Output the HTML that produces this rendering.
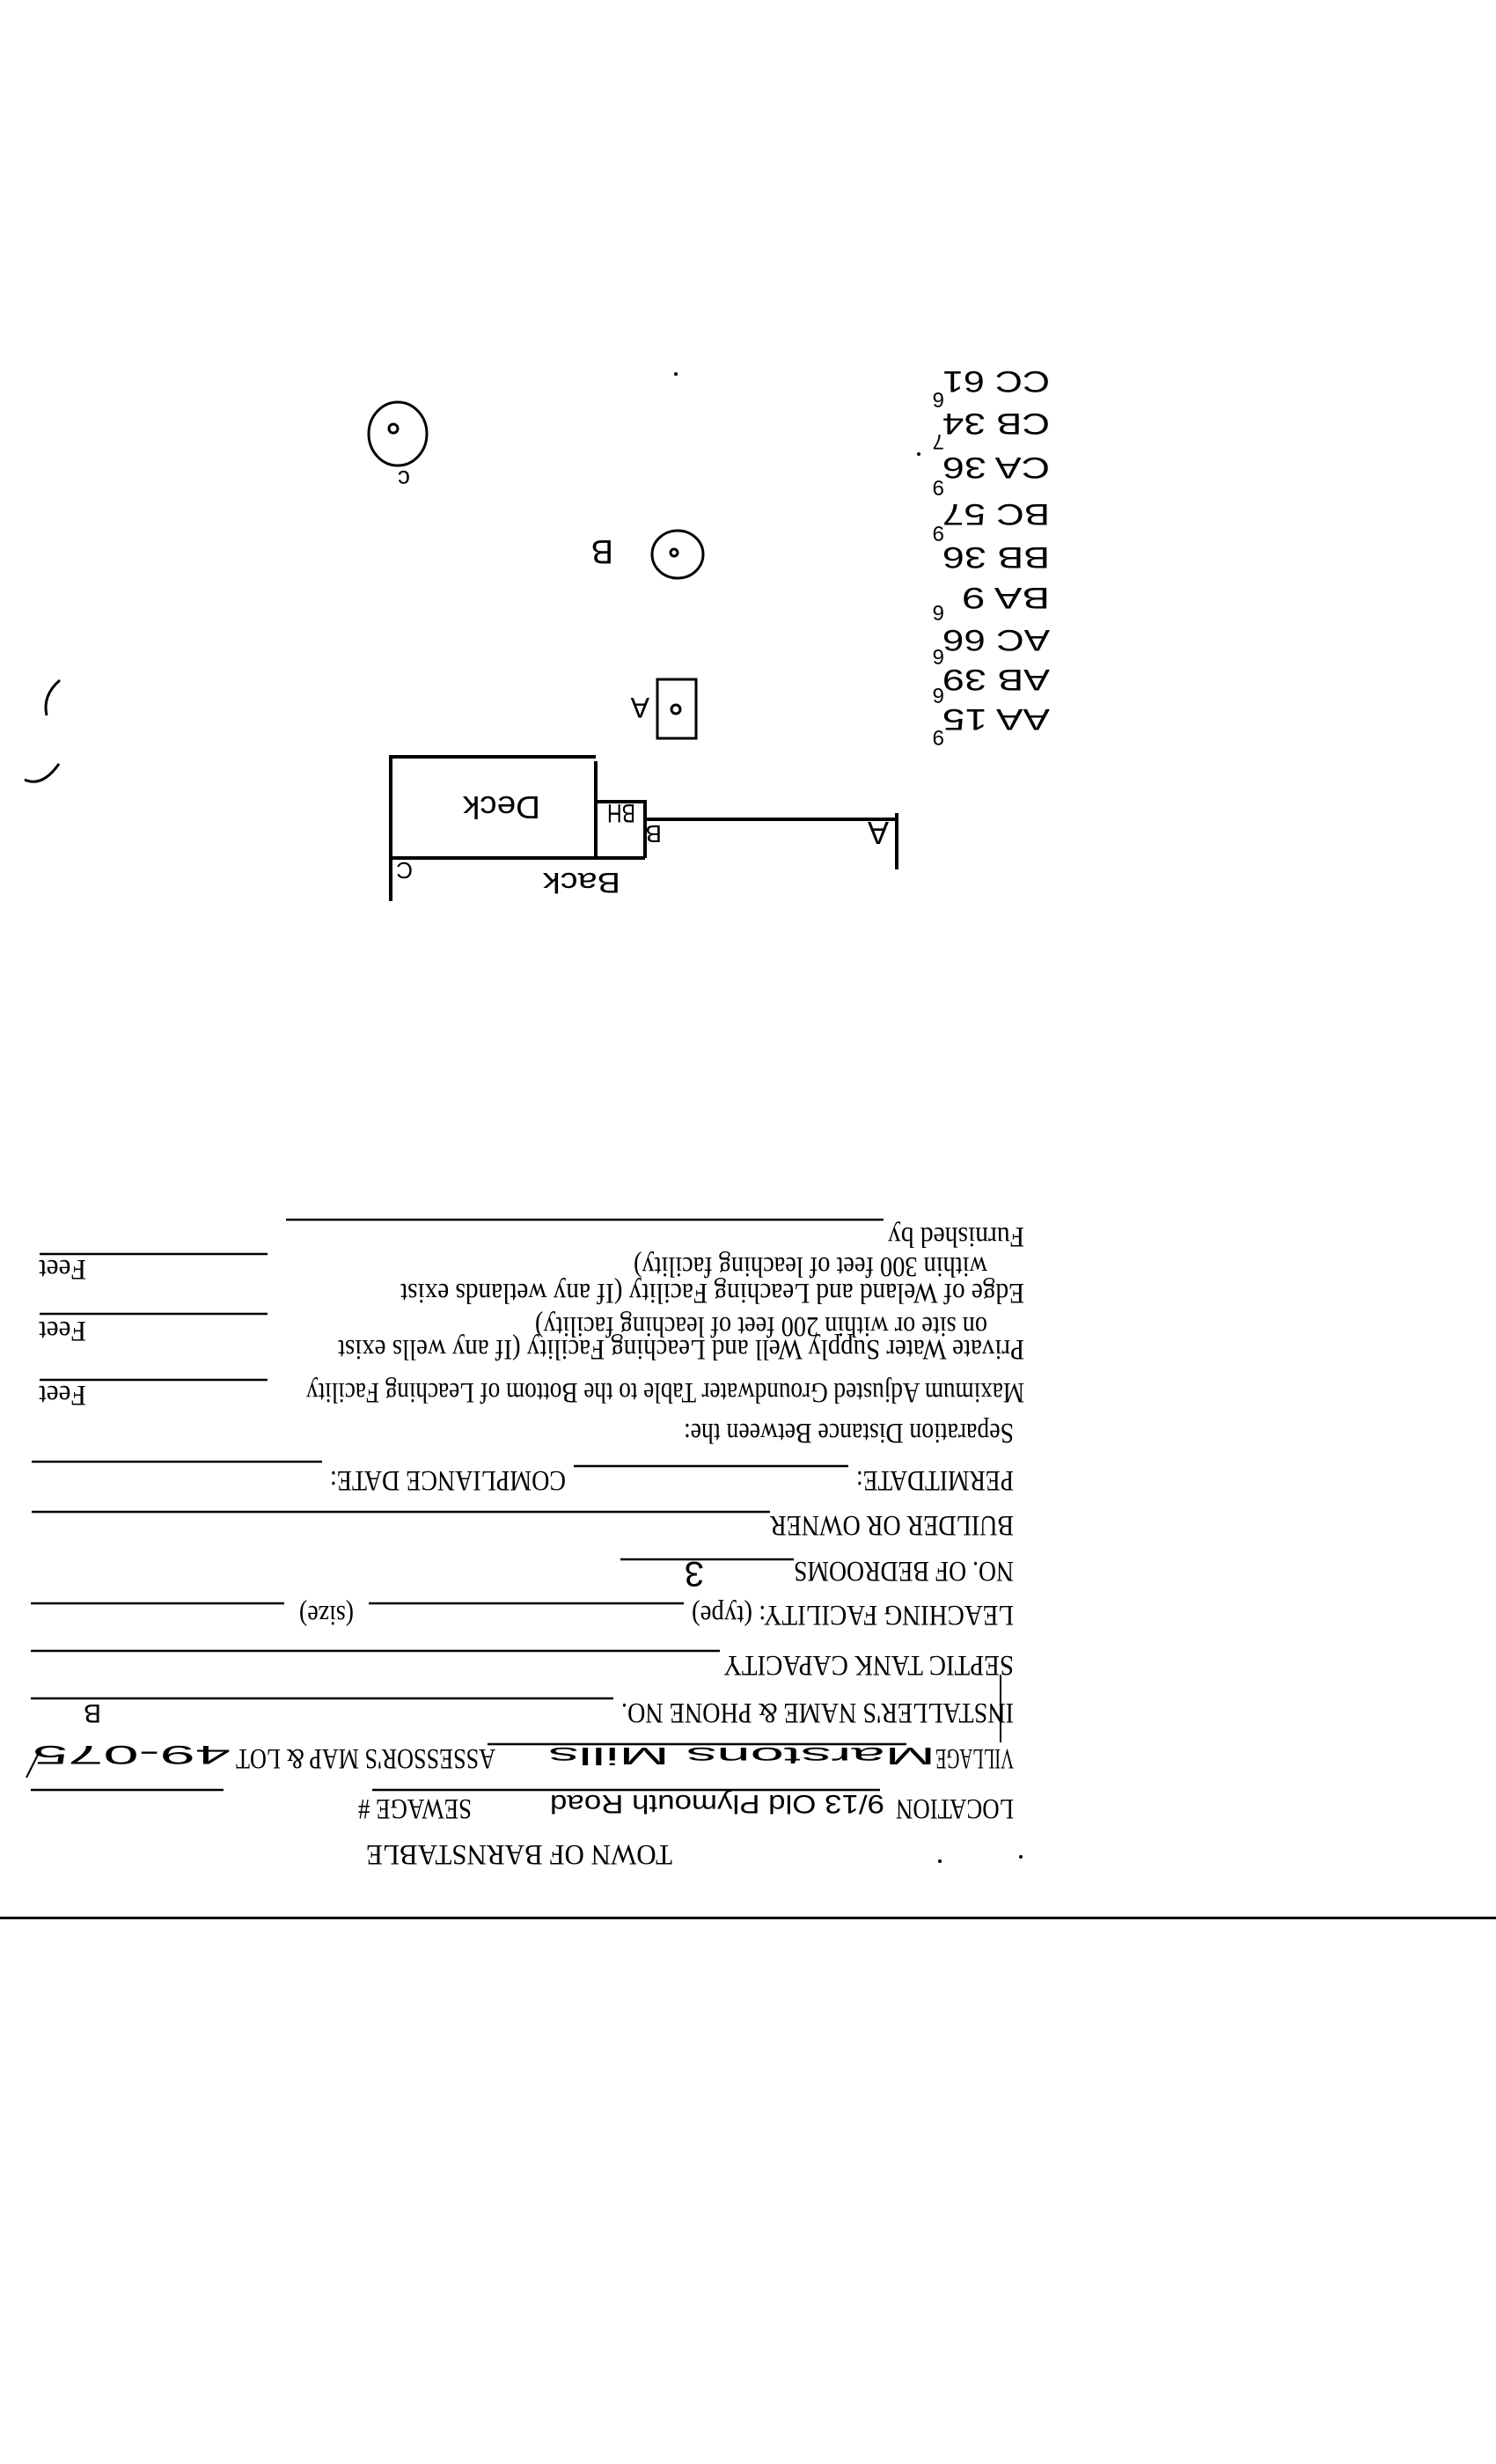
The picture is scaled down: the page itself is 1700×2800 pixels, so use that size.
<!DOCTYPE html>
<html><head><meta charset="utf-8"><style>
html,body{margin:0;padding:0;background:#fff;}
svg{display:block;}
.f{font-family:"Liberation Serif",serif;fill:#000;}
.h{font-family:"Liberation Sans",sans-serif;fill:#000;}
</style></head><body>
<svg width="1700" height="2800" viewBox="0 0 1700 2800" xmlns="http://www.w3.org/2000/svg">
<rect width="1700" height="2800" fill="#fff"/>
<rect x="0" y="2178" width="1700" height="3" fill="#000"/>

<g class="f" font-size="33">
<text x="764" y="2097" transform="rotate(180 764 2097)" textLength="348" lengthAdjust="spacingAndGlyphs">TOWN OF BARNSTABLE</text>
<text x="1152" y="2045" transform="rotate(180 1152 2045)" textLength="134" lengthAdjust="spacingAndGlyphs">LOCATION</text>
<text x="536" y="2045" transform="rotate(180 536 2045)" textLength="129" lengthAdjust="spacingAndGlyphs">SEWAGE #</text>
<text x="1152" y="1988" transform="rotate(180 1152 1988)" textLength="89" lengthAdjust="spacingAndGlyphs">VILLAGE</text>
<text x="563" y="1988" transform="rotate(180 563 1988)" textLength="295" lengthAdjust="spacingAndGlyphs">ASSESSOR'S MAP &amp; LOT</text>
<text x="1152" y="1936" transform="rotate(180 1152 1936)" textLength="446" lengthAdjust="spacingAndGlyphs">INSTALLER'S NAME &amp; PHONE NO.</text>
<text x="1152" y="1882" transform="rotate(180 1152 1882)" textLength="330" lengthAdjust="spacingAndGlyphs">SEPTIC TANK CAPACITY</text>
<text x="1152" y="1825" transform="rotate(180 1152 1825)" textLength="366" lengthAdjust="spacingAndGlyphs">LEACHING FACILITY: (type)</text>
<text x="402" y="1825" transform="rotate(180 402 1825)" textLength="62" lengthAdjust="spacingAndGlyphs">(size)</text>
<text x="1152" y="1775" transform="rotate(180 1152 1775)" textLength="250" lengthAdjust="spacingAndGlyphs">NO. OF BEDROOMS</text>
<text x="1152" y="1723" transform="rotate(180 1152 1723)" textLength="277" lengthAdjust="spacingAndGlyphs">BUILDER OR OWNER</text>
<text x="1152" y="1672" transform="rotate(180 1152 1672)" textLength="179" lengthAdjust="spacingAndGlyphs">PERMITDATE:</text>
<text x="643" y="1672" transform="rotate(180 643 1672)" textLength="268" lengthAdjust="spacingAndGlyphs">COMPLIANCE  DATE:</text>
<text x="1152" y="1618" transform="rotate(180 1152 1618)" textLength="375" lengthAdjust="spacingAndGlyphs">Separation Distance Between the:</text>
<text x="1164" y="1572" transform="rotate(180 1164 1572)" textLength="816" lengthAdjust="spacingAndGlyphs">Maximum Adjusted Groundwater Table to the Bottom of Leaching Facility</text>
<text x="1164" y="1523" transform="rotate(180 1164 1523)" textLength="780" lengthAdjust="spacingAndGlyphs">Private Water Supply Well and Leaching Facility  (If any wells exist</text>
<text x="1122" y="1497" transform="rotate(180 1122 1497)" textLength="514" lengthAdjust="spacingAndGlyphs">on site or within 200 feet of leaching facility)</text>
<text x="1164" y="1459" transform="rotate(180 1164 1459)" textLength="709" lengthAdjust="spacingAndGlyphs">Edge of Weland and Leaching Facility (If any wetlands exist</text>
<text x="1122" y="1429" transform="rotate(180 1122 1429)" textLength="402" lengthAdjust="spacingAndGlyphs">within 300 feet of leaching facility)</text>
<text x="1164" y="1395" transform="rotate(180 1164 1395)" textLength="155" lengthAdjust="spacingAndGlyphs">Furnished by</text>
<text x="98" y="1575" transform="rotate(180 98 1575)" textLength="54" lengthAdjust="spacingAndGlyphs">Feet</text>
<text x="98" y="1502" transform="rotate(180 98 1502)" textLength="54" lengthAdjust="spacingAndGlyphs">Feet</text>
<text x="98" y="1432" transform="rotate(180 98 1432)" textLength="54" lengthAdjust="spacingAndGlyphs">Feet</text>
</g>

<g stroke="#000" stroke-width="2.5">
<line x1="423" y1="2034" x2="1000" y2="2034"/>
<line x1="35" y1="2034" x2="254" y2="2034"/>
<line x1="554" y1="1982" x2="1030" y2="1982"/>
<line x1="35" y1="1930" x2="697" y2="1930"/>
<line x1="35" y1="1876" x2="818" y2="1876"/>
<line x1="419" y1="1822" x2="777" y2="1822"/>
<line x1="35" y1="1822" x2="323" y2="1822"/>
<line x1="705" y1="1772" x2="902" y2="1772"/>
<line x1="36" y1="1718" x2="875" y2="1718"/>
<line x1="652" y1="1666" x2="964" y2="1666"/>
<line x1="36" y1="1661" x2="366" y2="1661"/>
<line x1="45" y1="1568" x2="304" y2="1568"/>
<line x1="45" y1="1493" x2="304" y2="1493"/>
<line x1="45" y1="1425" x2="304" y2="1425"/>
<line x1="325" y1="1386" x2="1004" y2="1386"/>
<line x1="1137" y1="1903" x2="1137" y2="1980" stroke-width="2"/>
<line x1="30" y1="2020" x2="45" y2="1990" stroke-width="2"/>
</g>

<g class="h">
<text x="1005" y="2040" transform="rotate(180 1005 2040)" font-size="30" textLength="380" lengthAdjust="spacingAndGlyphs">9/13 Old Plymouth Road</text>
<text x="1063" y="1986" transform="rotate(180 1063 1986)" font-size="28" textLength="440" lengthAdjust="spacingAndGlyphs">Marstons Mills</text>
<text x="262" y="1984" transform="rotate(180 262 1984)" font-size="30" textLength="225" lengthAdjust="spacingAndGlyphs">49-075</text>
<text x="115" y="1937" transform="rotate(180 115 1937)" font-size="30">B</text>
<text x="800" y="1775" transform="rotate(180 800 1775)" font-size="40">3</text>
</g>

<g fill="none" stroke="#000" stroke-width="4">
<polyline points="444,1024 444,860 677,860"/>
<line x1="444" y1="975" x2="733" y2="975"/>
<line x1="677" y1="865" x2="677" y2="975"/>
<polyline points="677,911 733,911 733,975"/>
<line x1="733" y1="931" x2="1019" y2="931"/>
<line x1="1019" y1="924" x2="1019" y2="988"/>
<rect x="747" y="772" width="44" height="67" stroke-width="3"/>
<circle cx="768" cy="806" r="5" stroke-width="3"/>
<ellipse cx="770" cy="630" rx="29" ry="27" stroke-width="3"/>
<circle cx="766" cy="628" r="4" stroke-width="3"/>
<ellipse cx="452" cy="493" rx="33" ry="36" stroke-width="3"/>
<circle cx="447" cy="487" r="5" stroke-width="3"/>
<path d="M68 773 Q48 790 53 813" stroke-width="3"/>
<path d="M28 886 Q48 895 67 868" stroke-width="3"/>
</g>

<g class="h">
<text x="1010" y="934" transform="rotate(180 1010 934)" font-size="36">A</text>
<text x="752" y="938" transform="rotate(180 752 938)" font-size="28">B</text>
<text x="469" y="980" transform="rotate(180 469 980)" font-size="26">C</text>
<text x="705" y="992" transform="rotate(180 705 992)" font-size="32" textLength="88" lengthAdjust="spacingAndGlyphs">Back</text>
<text x="614" y="905" transform="rotate(180 614 905)" font-size="36" textLength="88" lengthAdjust="spacingAndGlyphs">Deck</text>
<text x="722" y="914" transform="rotate(180 722 914)" font-size="30" textLength="32" lengthAdjust="spacingAndGlyphs">BH</text>
<text x="738" y="793" transform="rotate(180 738 793)" font-size="32">A</text>
<text x="697" y="614" transform="rotate(180 697 614)" font-size="38">B</text>
<text x="466" y="535" transform="rotate(180 466 535)" font-size="28">c</text>
</g>

<g class="h" font-size="34">
<text x="1193" y="422" transform="rotate(180 1193 422)" textLength="122" lengthAdjust="spacingAndGlyphs">CC 61</text>
<text x="1193" y="470" transform="rotate(180 1193 470)" textLength="122" lengthAdjust="spacingAndGlyphs">CB 34</text>
<text x="1193" y="520" transform="rotate(180 1193 520)" textLength="122" lengthAdjust="spacingAndGlyphs">CA 36</text>
<text x="1193" y="573" transform="rotate(180 1193 573)" textLength="122" lengthAdjust="spacingAndGlyphs">BC 57</text>
<text x="1193" y="622" transform="rotate(180 1193 622)" textLength="122" lengthAdjust="spacingAndGlyphs">BB 36</text>
<text x="1193" y="668" transform="rotate(180 1193 668)" textLength="100" lengthAdjust="spacingAndGlyphs">BA 9</text>
<text x="1193" y="716" transform="rotate(180 1193 716)" textLength="122" lengthAdjust="spacingAndGlyphs">AC 66</text>
<text x="1193" y="761" transform="rotate(180 1193 761)" textLength="122" lengthAdjust="spacingAndGlyphs">AB 39</text>
<text x="1193" y="806" transform="rotate(180 1193 806)" textLength="122" lengthAdjust="spacingAndGlyphs">AA 15</text>
</g>
<g class="h" font-size="24">
<text x="1073" y="446" transform="rotate(180 1073 446)">6</text>
<text x="1073" y="494" transform="rotate(180 1073 494)">7</text>
<text x="1073" y="546" transform="rotate(180 1073 546)">9</text>
<text x="1073" y="598" transform="rotate(180 1073 598)">9</text>
<text x="1073" y="688" transform="rotate(180 1073 688)">6</text>
<text x="1073" y="738" transform="rotate(180 1073 738)">6</text>
<text x="1073" y="782" transform="rotate(180 1073 782)">6</text>
<text x="1073" y="830" transform="rotate(180 1073 830)">9</text>
</g>
<g fill="#000">
<circle cx="768" cy="425" r="2"/>
<circle cx="1044" cy="516" r="2"/>
<circle cx="1160" cy="2110" r="2"/>
<circle cx="1068" cy="2115" r="2"/>
</g>
</svg>
</body></html>
